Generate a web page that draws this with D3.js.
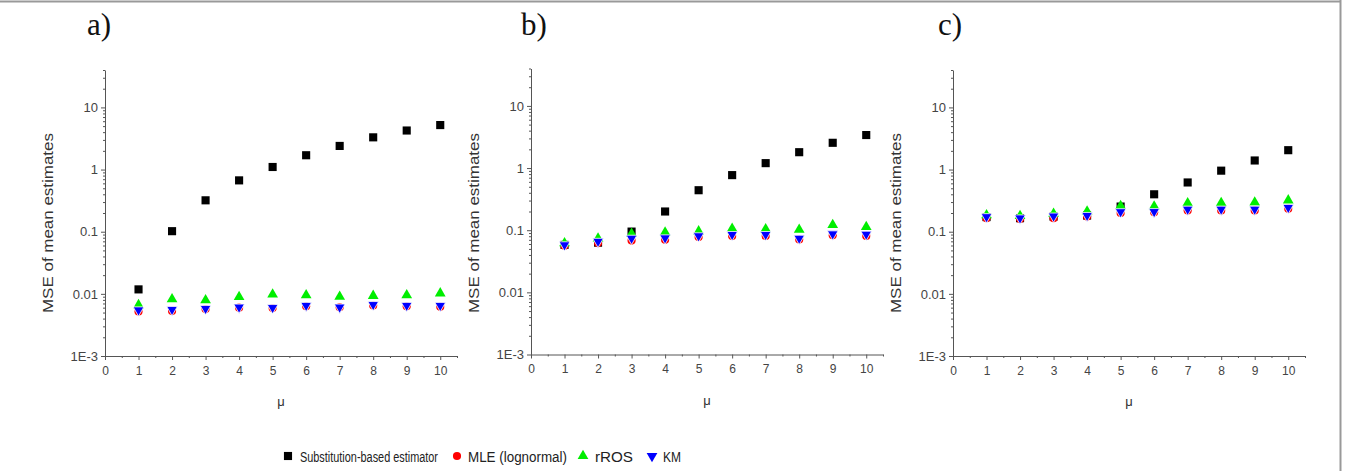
<!DOCTYPE html>
<html>
<head>
<title>MSE of mean estimates</title>
<script src="https://d3js.org/d3.v7.min.js"></script>
<style>
  html, body { margin: 0; padding: 0; background: #fff; }
  svg { display: block; }
  .axis path, .axis line { stroke: #555; stroke-width: 1px; }
  .axis text { fill: #444; font-family: Arial, "Liberation Sans", sans-serif; font-size: 12px; }
  .yaxis text { font-size: 13px; }
  .ytitle, .xtitle { fill: #333; font-family: Arial, "Liberation Sans", sans-serif; }
  .panel-letter { font-family: "Liberation Serif", "Times New Roman", serif; font-size: 31px; fill: #111; }
  .legend text { font-family: Arial, "Liberation Sans", sans-serif; font-size: 11px; fill: #222; }
</style>
</head>
<body>
<svg width="1345" height="471"></svg>
<script>
// data
const mu = [1, 2, 3, 4, 5, 6, 7, 8, 9, 10];

const subA  = [0.0118, 0.102, 0.32, 0.67, 1.1, 1.7, 2.4, 3.3, 4.25, 5.2];
const mleA  = [0.0052, 0.0053, 0.0057, 0.0060, 0.0059, 0.0063, 0.0061, 0.0065, 0.0063, 0.0062];
const rrosA = [0.0066, 0.0082, 0.0079, 0.0089, 0.0098, 0.0095, 0.0090, 0.0093, 0.0095, 0.0102];
const kmA   = [0.0055, 0.0056, 0.0058, 0.0061, 0.0060, 0.0065, 0.0061, 0.0067, 0.0065, 0.0065];

const subB  = [0.058, 0.063, 0.095, 0.20, 0.44, 0.77, 1.2, 1.8, 2.55, 3.4];
const mleB  = [0.056, 0.062, 0.068, 0.070, 0.078, 0.081, 0.081, 0.071, 0.083, 0.081];
const rrosB = [0.062, 0.074, 0.088, 0.092, 0.096, 0.106, 0.104, 0.102, 0.122, 0.113];
const kmB   = [0.058, 0.066, 0.074, 0.075, 0.081, 0.085, 0.085, 0.074, 0.087, 0.086];

const subC  = [0.172, 0.165, 0.175, 0.182, 0.254, 0.40, 0.62, 0.96, 1.4, 2.05];
const mleC  = [0.165, 0.160, 0.165, 0.175, 0.200, 0.205, 0.220, 0.220, 0.220, 0.235];
const rrosC = [0.185, 0.180, 0.195, 0.212, 0.260, 0.255, 0.288, 0.290, 0.295, 0.320];
const kmC   = [0.174, 0.166, 0.178, 0.182, 0.209, 0.210, 0.230, 0.230, 0.230, 0.245];

const xTicks = [0, 1, 2, 3, 4, 5, 6, 7, 8, 9, 10];
const yTicks = [0.001, 0.01, 0.1, 1, 10];
const yTickLabels = ["1E-3", "0.01", "0.1", "1", "10"];

const seriesNames = ["Substitution-based estimator", "MLE (lognormal)", "rROS", "KM"];
const seriesColors = ["#000000", "#ff0000", "#00ee00", "#0000ff"];

const panels = [
  { letter: "a)", left: 105, bottom: 356, lx: 87, data: [subA, mleA, rrosA, kmA] },
  { letter: "b)", left: 531, bottom: 354.5, lx: 521, data: [subB, mleB, rrosB, kmB] },
  { letter: "c)", left: 953, bottom: 356, lx: 938, data: [subC, mleC, rrosC, kmC] }
];

const svg = d3.select('svg');

// frame lines (top and right)
svg.append('line').attr('x1', 0).attr('x2', 1341).attr('y1', 1.5).attr('y2', 1.5)
   .attr('stroke', '#999').attr('stroke-width', 2);
svg.append('line').attr('x1', 1340.5).attr('x2', 1340.5).attr('y1', 0).attr('y2', 471)
   .attr('stroke', '#999').attr('stroke-width', 2);

const plotW = 352, plotH = 286;

const symbols = [
  d3.symbol().type(d3.symbolSquare).size(66),
  d3.symbol().type(d3.symbolCircle).size(52),
  d3.symbol().type(d3.symbolTriangle).size(50),
  d3.symbol().type(d3.symbolTriangle).size(50)
];
const rotations = [0, 0, 0, 180];

// minor tick values on the log axis
let yMinor = [];
for (let e = -3; e <= 1; e++) {
  for (let k = 2; k <= 9; k++) {
    let v = k * Math.pow(10, e);
    if (v <= 40) yMinor.push(v);
  }
}
const xMinor = d3.range(0.5, 10.6, 1);

panels.forEach(p => {
  let x = d3.scaleLinear().domain([0, 10.5]).range([p.left, p.left + plotW]);
  let y = d3.scaleLog().domain([0.001, 40]).range([p.bottom, p.bottom - plotH]);

  let g = svg.append('g');

  // x axis
  g.append('g').attr('class', 'axis')
    .attr('transform', `translate(0,${p.bottom})`)
    .call(d3.axisBottom(x).tickValues(xMinor).tickSize(2).tickFormat(''))
    .select('.domain').remove();
  g.append('g').attr('class', 'axis')
    .attr('transform', `translate(0,${p.bottom})`)
    .call(d3.axisBottom(x).tickValues(xTicks).tickSize(4).tickSizeOuter(0).tickPadding(6).tickFormat(d3.format('d')));

  // y axis
  g.append('g').attr('class', 'axis')
    .attr('transform', `translate(${p.left},0)`)
    .call(d3.axisLeft(y).tickValues(yMinor).tickSize(2).tickFormat(''))
    .select('.domain').remove();
  g.append('g').attr('class', 'axis yaxis')
    .attr('transform', `translate(${p.left},0)`)
    .call(d3.axisLeft(y).tickValues(yTicks).tickSize(4).tickSizeOuter(0).tickPadding(3)
      .tickFormat((d, i) => yTickLabels[i]));

  // titles
  g.append('text').attr('class', 'ytitle')
    .attr('transform', `translate(${p.left - 52},223) rotate(-90)`)
    .attr('text-anchor', 'middle')
    .attr('font-size', 15)
    .attr('textLength', 180).attr('lengthAdjust', 'spacingAndGlyphs')
    .text('MSE of mean estimates');
  g.append('text').attr('class', 'xtitle')
    .attr('x', x(5.25)).attr('y', p.bottom + 50)
    .attr('text-anchor', 'middle').attr('font-size', 13)
    .text('μ');
  g.append('text').attr('class', 'panel-letter')
    .attr('x', p.lx).attr('y', 35)
    .text(p.letter);

  // points
  p.data.forEach((vals, si) => {
    g.append('g').selectAll('path')
      .data(vals)
      .join('path')
      .attr('transform', (d, i) => `translate(${x(mu[i])},${y(d)}) rotate(${rotations[si]})`)
      .attr('d', symbols[si])
      .attr('fill', seriesColors[si])
      .attr('stroke', si === 3 ? '#fff' : 'none')
      .attr('stroke-width', si === 3 ? 0.8 : 0);
  });
});

// legend (narrow, tall lettering: small font stretched vertically)
const legendItems = [
  { sx: 288, tx: 300, w: 138 },
  { sx: 457, tx: 468, w: 99 },
  { sx: 583, tx: 595, w: 38 },
  { sx: 652, tx: 663, w: 18 }
];
const legend = svg.append('g').attr('class', 'legend');
legendItems.forEach((it, i) => {
  legend.append('path')
    .attr('transform', `translate(${it.sx},456) rotate(${rotations[i]})`)
    .attr('d', symbols[i])
    .attr('fill', seriesColors[i]);
  legend.append('text')
    .attr('transform', `translate(${it.tx},462) scale(1,1.35)`)
    .attr('textLength', it.w).attr('lengthAdjust', 'spacingAndGlyphs')
    .text(seriesNames[i]);
});
</script>
</body>
</html>
